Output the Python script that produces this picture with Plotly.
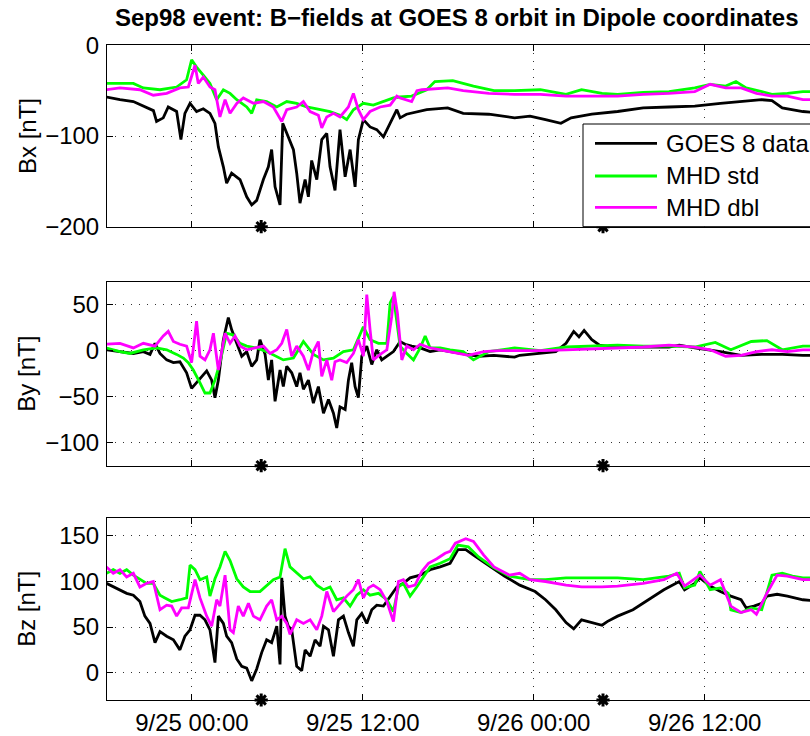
import plotly.graph_objects as go
from datetime import datetime, timedelta

# ---------------- data (hours since 1998-09-24 18:00 UT, values in nT) ----------------
t0 = datetime(1998, 9, 24, 18, 0)

bx_goes_h = [0.0, 0.95, 1.89, 2.82, 3.3, 3.52, 3.99, 4.34, 4.93, 5.23, 5.51, 5.87, 6.33, 6.80, 7.27, 7.62, 7.86,
             8.21, 8.44, 8.79, 9.38, 9.85, 10.20, 10.55, 11.02, 11.37, 11.60, 11.84, 12.19, 12.38, 12.77, 13.13,
             13.36, 13.59, 13.95, 14.18, 14.41, 14.77, 15.12, 15.47, 15.70, 16.05, 16.40, 16.76, 17.11, 17.46,
             17.69, 18.04, 18.51, 18.98, 19.45, 19.92, 20.39, 20.62, 21.07, 22.49, 23.96, 25.05, 26.85, 28.66,
             29.74, 30.83, 31.91, 32.63, 34.08, 35.89, 37.69, 39.50, 41.31, 43.11, 44.92, 46.01, 46.73, 47.45,
             48.90, 49.6]
bx_goes = [-57, -60, -62, -68, -72, -84, -80, -68, -73, -104, -75, -64, -73, -70, -75, -86, -112,
           -134, -152, -141, -148, -167, -176, -171, -148, -134, -115, -156, -176, -86, -101, -115,
           -141, -174, -148, -167, -127, -148, -104, -97, -134, -160, -93, -145, -115, -156,
           -104, -82, -90, -93, -101, -86, -71, -80, -76, -71, -69, -75, -76, -80,
           -78, -82, -86, -80, -76, -73, -69, -68, -67, -64, -62, -60, -61, -69,
           -73, -74]

bx_std_h = [0.0, 1.89, 2.59, 3.76, 4.93, 5.63, 5.98, 6.33, 6.80, 7.27, 7.74, 8.21, 8.68, 9.15, 9.85, 10.20,
            10.55, 11.25, 11.96, 12.66, 13.36, 14.06, 14.77, 15.70, 16.40, 16.87, 17.34, 18.04, 18.74, 19.45,
            20.15, 20.62, 21.43, 22.49, 23.06, 24.32, 25.77, 27.21, 28.66, 30.47, 32.27, 33.36, 34.80, 35.89,
            37.69, 39.50, 41.31, 42.39, 43.48, 44.20, 44.92, 46.01, 46.73, 47.81, 48.90, 49.6]
bx_std = [-42, -42, -47, -49, -46, -38, -16, -24, -33, -42, -60, -49, -53, -60, -68, -75,
          -60, -62, -68, -62, -64, -68, -70, -73, -77, -82, -71, -64, -66, -62,
          -58, -57, -56, -49, -40, -39, -45, -50, -50, -49, -54, -49, -53, -54,
          -52, -51, -47, -43, -45, -40, -47, -51, -54, -53, -51, -51]

bx_dbl_h = [0.0, 0.95, 2.35, 3.29, 4.23, 5.16, 5.75, 6.22, 6.45, 6.80, 7.27, 7.62, 7.97, 8.33, 8.68, 9.15,
            9.61, 10.32, 11.02, 11.72, 12.31, 12.66, 13.36, 13.83, 14.30, 14.88, 15.12, 15.47, 15.94, 16.40,
            16.99, 17.34, 17.69, 18.04, 18.51, 19.22, 19.92, 20.39, 20.62, 21.43, 21.8, 22.15, 23.96, 25.05,
            26.85, 28.66, 30.47, 32.27, 34.08, 35.89, 37.69, 39.50, 41.31, 42.39, 43.48, 44.56, 45.64, 46.73,
            47.81, 48.90, 49.6]
bx_dbl = [-49, -47, -49, -55, -53, -47, -46, -22, -42, -35, -46, -49, -79, -60, -75, -64,
          -58, -64, -62, -68, -84, -71, -68, -62, -73, -77, -91, -79, -75, -79,
          -68, -53, -71, -82, -73, -68, -66, -56, -58, -62, -50, -49, -47, -50,
          -53, -54, -54, -56, -56, -56, -54, -53, -51, -43, -47, -47, -53, -56,
          -56, -60, -60]

by_goes_h = [0.0, 0.95, 1.89, 2.59, 3.06, 3.41, 3.76, 4.23, 4.70, 5.16, 5.63, 5.98, 6.33, 6.69, 7.04, 7.39,
             7.62, 7.86, 8.21, 8.56, 8.79, 9.15, 9.50, 9.85, 10.20, 10.55, 10.78, 11.14, 11.37, 11.60, 11.84,
             12.19, 12.42, 12.66, 13.01, 13.36, 13.59, 13.83, 14.18, 14.53, 14.88, 15.24, 15.59, 15.94, 16.17,
             16.40, 16.76, 16.99, 17.22, 17.46, 17.69, 17.93, 18.28, 18.63, 18.98, 19.33, 19.69, 20.15, 20.62,
             20.97, 21.44, 22.03, 22.73, 23.43, 24.13, 25.05, 26.13, 27.21, 28.66, 29.02, 30.47, 31.55, 32.27,
             32.81, 33.18, 33.54, 34.08, 34.62, 35.53, 37.69, 39.50, 40.22, 41.31, 43.11, 44.56, 46.01, 47.45,
             48.90, 49.6]
by_goes = [1, -1, -3, -1, -4, 8, -3, -10, -13, -12, -24, -41, -35, -28, -22, -32,
           -51, -32, 12, 36, 23, 8, -6, -1, -17, -10, 12, -4, -32, -10, -55,
           -21, -39, -17, -24, -39, -24, -42, -32, -57, -39, -68, -53, -68, -84,
           -61, -64, -32, -13, -39, -51, -6, 5, -15, 1, -10, -6, -1, 10,
           7, 5, 3, -1, 1, -1, -3, -6, -5, -7, -5, -3, -1, 8,
           21, 15, 22, 12, 6, 4, 4, 4, 6, 3, -1, -5, -4, -4,
           -5, -5]

by_std_h = [0.0, 0.95, 1.65, 2.59, 3.52, 4.23, 4.93, 5.40, 5.75, 6.10, 6.57, 6.92, 7.27, 7.62, 7.97, 8.44,
            8.91, 9.38, 9.85, 10.55, 11.25, 11.96, 12.42, 13.13, 13.83, 14.53, 15.24, 15.94, 16.64, 17.34,
            18.04, 18.51, 19.10, 19.69, 19.92, 20.15, 20.39, 20.62, 21.09, 21.56, 22.03, 22.38, 22.73, 23.43,
            24.13, 25.05, 25.77, 26.85, 28.66, 30.47, 32.27, 34.08, 35.89, 37.69, 39.50, 41.31, 42.75, 43.84,
            45.28, 46.37, 47.45, 48.90, 49.6]
by_std = [3, -1, -3, 1, 3, 1, -4, -8, -13, -21, -35, -46, -46, -32, -13, 19,
          17, 8, 5, 3, -1, -6, -10, -8, 10, -4, -10, -8, -1, 1,
          26, 12, 8, 8, 52, 59, 30, 5, -3, -10, 3, 16, 3, 3,
          1, -1, -10, -1, 3, 0, 4, 5, 6, 5, 5, 4, 9, 1,
          10, 11, 1, 5, 5]

by_dbl_h = [0.0, 0.95, 1.89, 2.59, 3.41, 3.99, 4.34, 4.70, 5.16, 5.63, 5.98, 6.33, 6.57, 6.92, 7.27, 7.51,
            7.86, 8.33, 8.68, 9.03, 9.38, 9.85, 10.43, 11.02, 11.49, 11.96, 12.31, 12.66, 13.01, 13.36, 13.83,
            14.18, 14.53, 14.88, 15.12, 15.47, 15.82, 16.05, 16.40, 16.87, 17.34, 17.69, 18.04, 18.28, 18.51,
            18.74, 19.22, 19.69, 20.03, 20.20, 20.43, 20.74, 21.09, 21.56, 22.03, 22.73, 23.43, 24.13, 25.41,
            26.49, 27.57, 28.66, 30.47, 32.27, 34.08, 35.89, 37.69, 39.50, 41.31, 42.39, 43.48, 44.56, 45.64,
            46.73, 47.81, 48.90, 49.6]
by_dbl = [7, 8, 3, 8, 5, 16, 21, 10, 7, 5, -13, 32, -6, -10, 1, 19,
          -21, 19, 8, 16, 5, 1, 3, 5, -3, 1, 8, 23, -6, 5, -6,
          -21, -1, 10, -28, -10, -32, -12, -10, -13, -3, 12, -6, 61, 23,
          -10, -4, 1, 37, 64, 41, -10, 5, 1, 7, 3, 1, -1, -5,
          -1, 0, 0, 0, 1, 2, 3, 4, 6, 4, 1, -6, -5, -1,
          1, -1, 1, 1]

bz_goes_h = [0.0, 0.48, 0.95, 1.42, 1.89, 2.35, 2.70, 3.06, 3.41, 3.76, 4.23, 4.70, 5.16, 5.51, 5.87, 6.22,
             6.57, 6.92, 7.27, 7.62, 7.86, 8.21, 8.44, 8.79, 9.15, 9.50, 9.85, 10.20, 10.55, 10.90, 11.25,
             11.60, 11.96, 12.19, 12.31, 12.54, 12.77, 13.01, 13.36, 13.71, 13.95, 14.30, 14.65, 15.00, 15.24,
             15.59, 15.94, 16.29, 16.64, 16.99, 17.34, 17.58, 17.93, 18.28, 18.63, 18.98, 19.45, 19.92, 20.39,
             20.85, 21.32, 22.03, 22.73, 23.43, 24.13, 24.68, 25.23, 25.77, 26.85, 27.94, 29.02, 30.10, 30.83,
             31.55, 32.27, 32.81, 33.36, 34.08, 34.80, 35.16, 35.89, 36.97, 38.06, 39.14, 40.22, 40.59, 41.31,
             41.67, 42.39, 43.11, 43.84, 44.56, 44.92, 45.46, 46.01, 46.37, 47.09, 47.81, 48.90, 49.6]
bz_goes = [98, 94, 91, 87, 85, 78, 62, 54, 33, 45, 40, 36, 25, 40, 47, 63,
           63, 58, 47, 11, 62, 54, 40, 33, 15, 7, 5, -9, 4, 22, 36,
           33, 51, 9, 104, 62, 51, 47, 7, 2, 25, 18, 36, 29, 51,
           47, 18, 58, 62, 44, 29, 58, 65, 54, 69, 74, 73, 84, 94,
           98, 104, 107, 113, 116, 120, 135, 135, 129, 118, 106, 96, 89, 80,
           69, 55, 48, 58, 55, 52, 56, 62, 69, 80, 91, 100, 91, 98,
           104, 95, 89, 84, 80, 71, 73, 76, 84, 86, 84, 80, 79]

bz_std_h = [0.0, 0.48, 0.95, 1.42, 1.89, 2.35, 2.82, 3.29, 3.76, 4.11, 4.58, 5.16, 5.63, 5.87, 6.22, 6.57,
            7.04, 7.27, 7.62, 7.97, 8.33, 8.68, 9.15, 9.61, 10.08, 10.78, 11.25, 11.72, 12.19, 12.54, 12.89,
            13.36, 13.83, 14.30, 14.77, 15.24, 15.70, 16.17, 16.64, 17.11, 17.58, 18.04, 18.51, 19.10, 19.69,
            20.15, 20.50, 20.85, 21.32, 21.79, 22.26, 22.73, 23.43, 24.13, 24.68, 25.41, 26.13, 27.21, 28.30,
            29.02, 29.74, 30.83, 32.27, 34.08, 35.89, 37.69, 39.50, 40.22, 40.59, 41.31, 41.67, 42.39, 43.11,
            43.66, 43.84, 44.56, 45.28, 46.01, 46.73, 47.45, 48.17, 48.90, 49.6]
bz_std = [109, 113, 109, 113, 107, 103, 98, 98, 85, 82, 78, 80, 82, 118, 113, 102,
          105, 84, 103, 116, 133, 123, 103, 94, 89, 89, 96, 102, 105, 136, 116,
          109, 103, 105, 96, 91, 94, 80, 82, 73, 85, 91, 85, 87, 80,
          67, 94, 98, 84, 94, 105, 116, 120, 125, 140, 138, 127, 115, 106,
          104, 102, 102, 104, 104, 104, 102, 106, 109, 93, 96, 111, 91, 93,
          87, 69, 66, 71, 69, 107, 109, 106, 104, 104]

bz_dbl_h = [0.0, 0.48, 0.95, 1.42, 1.89, 2.35, 2.82, 3.29, 3.76, 4.23, 4.58, 4.93, 5.28, 5.75, 6.22, 6.57,
            7.04, 7.39, 7.74, 7.97, 8.33, 8.68, 8.91, 9.26, 9.61, 9.97, 10.32, 10.78, 11.25, 11.60, 11.96,
            12.31, 12.66, 12.89, 13.36, 13.83, 14.30, 14.77, 15.12, 15.47, 15.94, 16.40, 16.87, 17.34, 17.69,
            18.04, 18.40, 18.74, 19.22, 19.69, 20.15, 20.50, 20.85, 21.20, 21.67, 22.14, 22.61, 23.20, 23.78,
            24.13, 24.50, 25.23, 25.77, 26.49, 27.21, 28.30, 29.02, 29.74, 30.83, 32.27, 33.36, 34.80, 35.89,
            37.69, 39.14, 40.04, 40.59, 41.67, 42.39, 43.11, 43.84, 44.56, 45.28, 45.64, 46.37, 47.09, 47.81,
            48.90, 49.6]
bz_dbl = [116, 109, 113, 105, 109, 94, 98, 100, 69, 74, 73, 62, 71, 71, 102, 82,
          62, 51, 80, 73, 107, 47, 44, 73, 62, 76, 62, 58, 73, 80, 58,
          62, 54, 42, 58, 54, 58, 47, 62, 89, 67, 76, 84, 91, 102,
          82, 93, 96, 91, 78, 56, 100, 102, 94, 96, 111, 120, 125, 131,
          133, 142, 147, 144, 129, 116, 107, 109, 102, 100, 96, 94, 94, 95,
          98, 102, 109, 95, 107, 96, 102, 73, 66, 69, 64, 87, 107, 106,
          102, 102]

# local midnight at GOES 8 (asterisks on each panel's lower axis)
midnight_marks = ["1998-09-25 04:52", "1998-09-26 04:52"]

series_names = ["GOES 8 data", "MHD std", "MHD dbl"]
panel_labels = ["Bx [nT]", "By [nT]", "Bz [nT]"]
panel_ranges = [[-200, 0], [-125, 75], [-30, 170]]
panel_ticks = [[-200, -100, 0], [-100, -50, 0, 50], [0, 50, 100, 150]]
title_text = "Sep98 event: B\u2212fields at GOES 8 orbit in Dipole coordinates"

# ---------------- layout helpers ----------------
W, H = 810, 736
L = 107
FONT = "Liberation Sans, Arial, Helvetica, sans-serif"
FS = 24
colors = ["#000000", "#00ff00", "#ff00ff"]
LW = 2.8


def px_x(px):
    return (px - L) / (W - L)


def px_y(py):
    return (H - py) / H


def times(hours):
    return [t0 + timedelta(hours=h) for h in hours]


panels_px = [(45.3, 226.7), (281.7, 465.7), (517.7, 700.0)]

data = [
    [(bx_goes_h, bx_goes), (bx_std_h, bx_std), (bx_dbl_h, bx_dbl)],
    [(by_goes_h, by_goes), (by_std_h, by_std), (by_dbl_h, by_dbl)],
    [(bz_goes_h, bz_goes), (bz_std_h, bz_std), (bz_dbl_h, bz_dbl)],
]

fig = go.Figure()
for i, panel in enumerate(data):
    xa = "x" if i == 0 else f"x{i+1}"
    ya = "y" if i == 0 else f"y{i+1}"
    for j, (hh, vv) in enumerate(panel):
        fig.add_trace(go.Scatter(x=times(hh), y=vv, mode="lines", xaxis=xa, yaxis=ya,
                                 line=dict(color=colors[j], width=LW), name=series_names[j],
                                 showlegend=False))
    fig.add_trace(go.Scatter(x=midnight_marks, y=[panel_ranges[i][0]] * len(midnight_marks),
                             mode="markers", xaxis=xa, yaxis=ya, cliponaxis=False, showlegend=False,
                             marker=dict(symbol="asterisk-open", size=11, color="black",
                                         line=dict(color="black", width=3))))

x_range = [t0 + timedelta(hours=0.04), t0 + timedelta(hours=49.40)]
layout = dict(
    width=W, height=H,
    margin=dict(l=L, r=0, t=0, b=0, autoexpand=False),
    paper_bgcolor="white", plot_bgcolor="white",
    font=dict(family=FONT, size=FS, color="black"),
    showlegend=False,
)
for i in range(3):
    xk = "xaxis" if i == 0 else f"xaxis{i+1}"
    yk = "yaxis" if i == 0 else f"yaxis{i+1}"
    top, bot = panels_px[i]
    layout[xk] = dict(
        domain=[0, 1], anchor="y" if i == 0 else f"y{i+1}", range=x_range, type="date",
        tick0="1998-09-25 00:00", dtick=12 * 3600 * 1000, tickformat="%-m/%d %H:%M",
        showticklabels=(i == 2), ticks="inside", ticklen=6, tickwidth=1, tickcolor="black",
        showline=True, linecolor="black", linewidth=1, mirror="ticks",
        showgrid=True, gridcolor="#333333", gridwidth=1, griddash="1px,7px",
        zeroline=False, automargin=False, ticklabelstandoff=1,
        tickfont=dict(family=FONT, size=FS, color="black"),
    )
    layout[yk] = dict(
        domain=[px_y(bot), px_y(top)], anchor="x" if i == 0 else f"x{i+1}",
        range=panel_ranges[i], tickvals=panel_ticks[i],
        ticks="inside", ticklen=6, tickwidth=1, tickcolor="black",
        showline=True, linecolor="black", linewidth=1, mirror=False,
        showgrid=True, gridcolor="#333333", gridwidth=1, griddash="1px,7px",
        zeroline=False, automargin=False, ticklabelstandoff=2,
        tickfont=dict(family=FONT, size=FS, color="black"),
    )
fig.update_layout(**layout)

annotations = []
for i in range(3):
    top, bot = panels_px[i]
    annotations.append(dict(text=panel_labels[i], x=px_x(27), y=px_y((top + bot) / 2),
                            xref="paper", yref="paper", xanchor="center", yanchor="middle",
                            textangle=-90, showarrow=False,
                            font=dict(family=FONT, size=FS, color="black")))
annotations.append(dict(text="<b>" + title_text + "</b>", x=px_x(113), y=px_y(17),
                        xref="paper", yref="paper", xanchor="left", yanchor="middle",
                        showarrow=False, font=dict(family=FONT, size=24, color="black")))

# legend drawn as box + sample lines + labels
shapes = [dict(type="rect", xref="paper", yref="paper", x0=px_x(583), x1=px_x(880),
               y0=px_y(226.7), y1=px_y(124), fillcolor="white", line=dict(color="black", width=1),
               layer="above")]
leg_rows = [143.3, 176.0, 207.3]
for j, ry in enumerate(leg_rows):
    shapes.append(dict(type="line", xref="paper", yref="paper", x0=px_x(595), x1=px_x(657),
                       y0=px_y(ry), y1=px_y(ry), line=dict(color=colors[j], width=LW), layer="above"))
    annotations.append(dict(text=series_names[j], x=px_x(664), y=px_y(ry), xref="paper", yref="paper",
                            xanchor="left", yanchor="middle", showarrow=False,
                            font=dict(family=FONT, size=FS, color="black")))

fig.update_layout(shapes=shapes, annotations=annotations)

fig.write_html("out.html", config={"displayModeBar": False},
               post_script="document.body.style.margin='0';document.body.style.overflow='hidden';")
